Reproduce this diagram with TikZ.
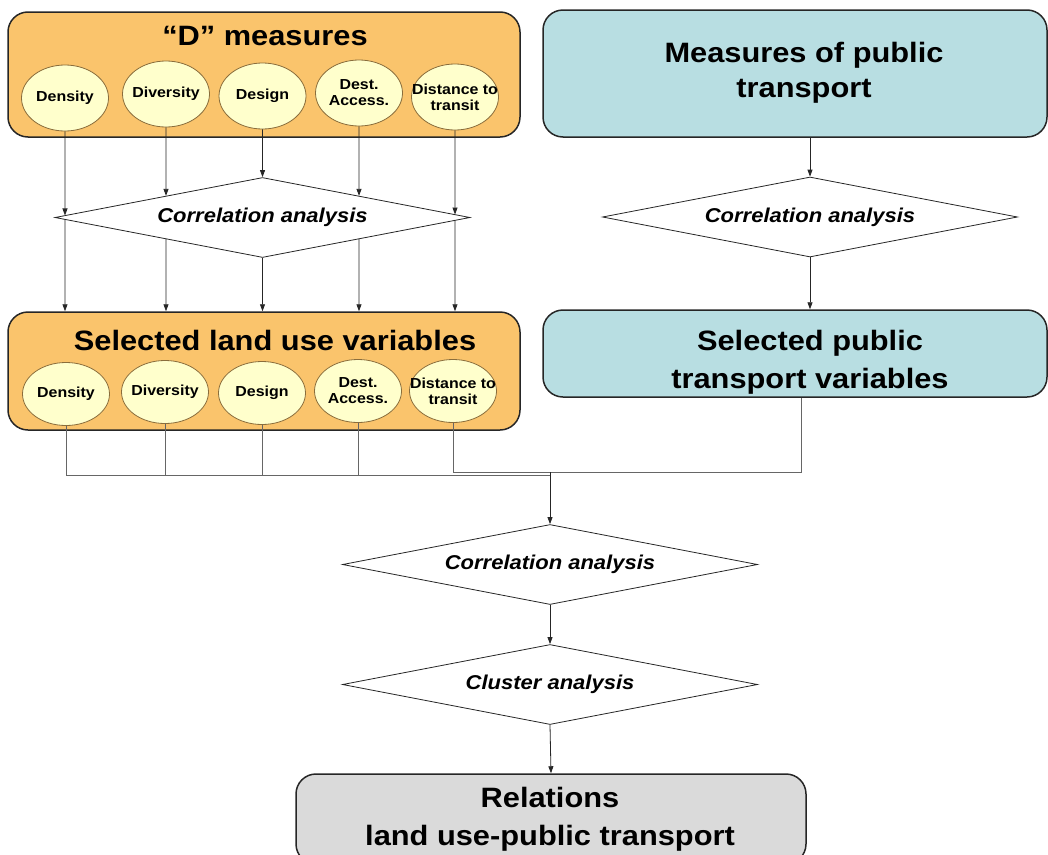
\documentclass[tikz,border=0pt]{standalone}
\usepackage{fontspec}
\setmainfont[FakeStretch=1.1]{Liberation Sans}
\usetikzlibrary{arrows.meta,shapes.geometric,positioning}

\definecolor{landfill}{HTML}{FAC46C}
\definecolor{ptfill}{HTML}{B8DEE2}
\definecolor{relfill}{HTML}{DADADA}
\definecolor{varfill}{HTML}{FFFFCC}
\definecolor{varline}{HTML}{8A6D3B}

\newcommand{\ttlfont}{\fontsize{28}{35}\selectfont\bfseries}
\newcommand{\varfont}{\fontsize{14.5}{16}\selectfont\bfseries}
\newcommand{\anlfont}{\fontsize{20}{24}\selectfont\bfseries\itshape}

\begin{document}
\begin{tikzpicture}[x=1pt, y=-1pt,
  grpbox/.style={draw=black!85, line width=1.5pt, rounded corners=20pt, inner sep=0pt},
  ttl/.style={font=\ttlfont, inner sep=0pt},
  var/.style={ellipse, draw=varline, fill=varfill, line width=0.8pt, minimum width=87pt,
    minimum height=66pt, inner xsep=-13pt, inner ysep=0pt, align=center, font=\varfont},
  anl/.style={diamond, aspect=5.2, draw=black!85, fill=white, line width=0.8pt,
    minimum width=415pt, minimum height=80pt, inner sep=0pt, font=\anlfont},
  arr/.style={-{Triangle[length=7pt,width=5pt]}, line width=0.8pt, draw=black!85},
  lnk/.style={line width=0.9pt, draw=black!60}]

\path[use as bounding box, clip] (0,0) rectangle (1048,854);

% --- Land use: "D" measures ---
\node[grpbox, fill=landfill, minimum width=512pt, minimum height=125pt] (dbox) at (264,74.5) {};
\node[ttl, anchor=base] (dttl) at (265,45) {``D'' measures};
\foreach \i/\x/\y/\t in {1/65/98/Density, 2/166/94/Diversity, 3/262.5/96/Design,
    4/359/93/{Dest.\\Access.}, 5/455/97/{Distance to\\transit}}
  \node[var] (t\i) at (\x,\y) {\t};

\node[anl] (lcor) at (262.5,217.5) {Correlation analysis};

% --- Land use: selected variables ---
\node[grpbox, fill=landfill, minimum width=512pt, minimum height=118pt] (sbox) at (264,371) {};
\node[ttl, anchor=base] (sttl) at (275,350) {Selected land use variables};
\foreach \i/\x/\y/\t in {1/66/394/Density, 2/165/392/Diversity, 3/262/393/Design,
    4/358/391/{Dest.\\Access.}, 5/453/391/{Distance to\\transit}}
  \node[var, minimum height=63pt] (b\i) at (\x,\y) {\t};

% ellipses -> diamond -> selected box
\foreach \i/\s in {1/west,2/west,3/west,4/east,5/east} {
  \draw[arr] (t\i.south) -- (intersection of lcor.\s--lcor.north and t\i.south--t\i.center);
  \draw[arr] (intersection of lcor.\s--lcor.south and t\i.south--t\i.center) -- (t\i.south |- sbox.north);
}

% --- Public transport ---
\node[grpbox, fill=ptfill, minimum width=504pt, minimum height=127pt] (pbox) at (795,73.5) {};
\node[ttl, align=center] (pttl) at (804,73) {Measures of public\\transport};
\node[anl] (pcor) at (810,217) {Correlation analysis};
\node[grpbox, fill=ptfill, minimum width=504pt, minimum height=87pt] (psel) at (795,353.5) {};
\node[ttl, align=center] (psttl) at (810,362.5) {Selected public\\[3pt]transport variables};

\draw[arr] (pcor.north |- pbox.south) -- (pcor.north);
\draw[arr] (pcor.south) -- (pcor.south |- psel.north);

% --- Joint analysis ---
\node[anl] (jcor) at (550,564.5) {Correlation analysis};
\node[anl] (clu) at (550,684.5) {Cluster analysis};
\node[grpbox, fill=relfill, minimum width=510pt, minimum height=90pt] (rel) at (551,819) {};
\node[ttl, align=center] (rttl) at (550,819.5) {Relations\\[3pt]land use-public transport};

\coordinate (jn) at (550,475);
\coordinate (pj) at (801,472);
\foreach \i in {1,...,4}
  \draw[lnk] (b\i.south) |- (jn);
\draw[lnk] (b5.south) |- (pj) -- (pj |- psel.south);
\draw[arr] (jn |- pj) -- (jcor.north);
\draw[arr] (jcor.south) -- (clu.north);
\draw[arr] (clu.south) -- (rel.north);

\end{tikzpicture}
\end{document}
